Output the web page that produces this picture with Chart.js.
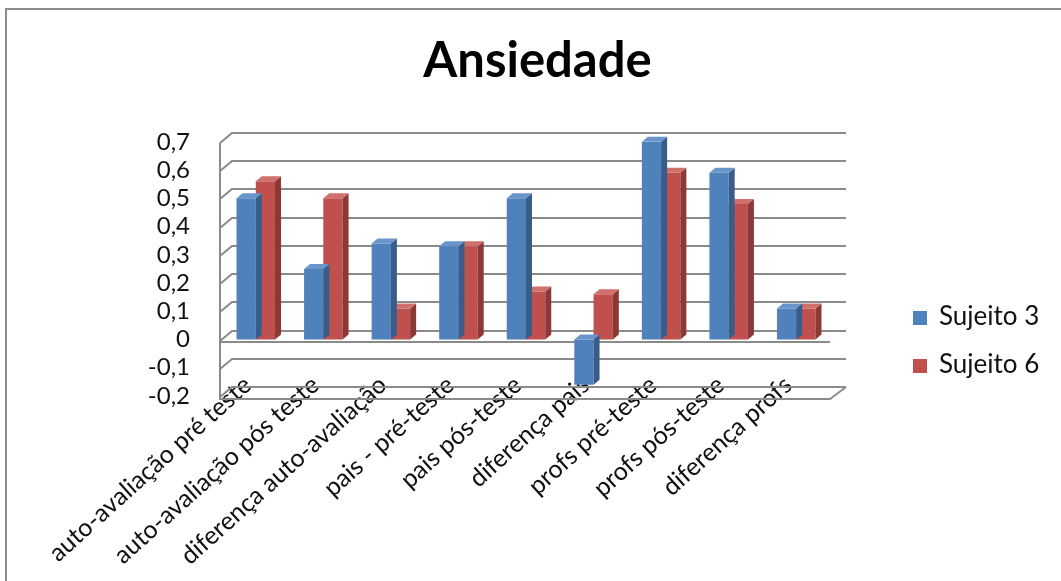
<!DOCTYPE html>
<html>
<head>
<meta charset="utf-8">
<script src="https://cdn.jsdelivr.net/npm/chart.js@4.4.0/dist/chart.umd.min.js"></script>
<style>
    body { margin: 0; background: #fff; }
    #wrap { position: relative; width: 1061px; height: 581px; overflow: hidden; }
    #frame { position: absolute; left: 5px; top: 8px; width: 1100px; height: 600px;
             border-left: 2px solid #8c8c8c; border-top: 2px solid #8c8c8c; }
    #chart { position: absolute; left: 0; top: 0; }
    .legend-item { position: absolute; left: 913px; font: 26px Lato, sans-serif; color: #111; line-height: 30px; }
    .legend-item span { display: inline-block; width: 14px; height: 14px; margin-right: 12px; vertical-align: 0px; }
</style>
</head>
<body>
<div id="wrap">
    <div id="frame"></div>
    <canvas id="chart" width="1061" height="581"></canvas>
    <div id="legend"></div>
</div>
<script>
var categories = ['auto-avaliação pré teste', 'auto-avaliação pós teste', 'diferença auto-avaliação',
    'pais - pré-teste', 'pais pós-teste', 'diferença pais', 'profs pré-teste', 'profs pós-teste', 'diferença profs'];
var sujeito3 = [0.5, 0.25, 0.34, 0.33, 0.5, -0.16, 0.7, 0.59, 0.11];
var sujeito6 = [0.56, 0.5, 0.11, 0.33, 0.17, 0.16, 0.59, 0.48, 0.11];
var seriesNames = ['Sujeito 3', 'Sujeito 6'];
var yMin = -0.2, yMax = 0.7, yStep = 0.1;

var colors = [
    { front: '#4F81BD', side: '#385D8A', top: '#6A95CC' },
    { front: '#C0504D', side: '#8C3836', top: '#D0706D' }
];

// legend on the right, like the original
var legendHtml = '';
for (var i = 0; i < seriesNames.length; i++) {
    legendHtml += '<div class="legend-item" style="top:' + (300 + i * 48) + 'px">' +
        '<span style="background:' + colors[i].front + '"></span>' + seriesNames[i] + '</div>';
}
document.getElementById('legend').innerHTML = legendHtml;

// back wall grid lines, left wall, floor and 3D faces of the bars
var wallPlugin = {
    id: 'wall',
    afterLayout: function(chart) {
        // labels start a bit above the floor, as in the original
        chart.scales.x.top -= 26;
    },
    beforeDatasetsDraw: function(chart) {
        var ctx = chart.ctx;
        var y = chart.scales.y;
        var area = chart.chartArea;
        var dx = 12, dy = 10;
        var left = area.left - 2;
        ctx.save();
        ctx.strokeStyle = '#8a8a8a';
        ctx.lineWidth = 2;
        ctx.beginPath();
        for (var v = yMin; v <= yMax + 1e-9; v += yStep) {
            var py = Math.round(y.getPixelForValue(v)) + 1;
            ctx.moveTo(left, py);
            ctx.lineTo(left + dx, py - dy);
            ctx.lineTo(area.right + 16, py - dy);
        }
        var yTop = Math.round(y.getPixelForValue(yMax)) + 1;
        var yBot = Math.round(y.getPixelForValue(yMin)) + 3;
        ctx.moveTo(left, yTop);
        ctx.lineTo(left, yBot);
        ctx.lineTo(area.right, yBot);
        ctx.lineTo(area.right + 16, yBot - dy - 2);
        var y0 = Math.round(y.getPixelForValue(0)) + 2;
        ctx.moveTo(left, y0);
        ctx.lineTo(area.right, y0);
        ctx.stroke();
        ctx.restore();
    },
    afterDatasetDraw: function(chart, args) {
        var ctx = chart.ctx;
        var meta = args.meta;
        var c = colors[args.index];
        var d = 6;
        ctx.save();
        for (var i = 0; i < meta.data.length; i++) {
            var p = meta.data[i].getProps(['x', 'y', 'base', 'width'], true);
            var l = p.x - p.width / 2, r = p.x + p.width / 2;
            var t = Math.min(p.y, p.base), b = Math.max(p.y, p.base);
            ctx.fillStyle = c.side;
            ctx.beginPath();
            ctx.moveTo(r, t);
            ctx.lineTo(r + d, t - d + 1);
            ctx.lineTo(r + d, b - d + 1);
            ctx.lineTo(r, b);
            ctx.closePath();
            ctx.fill();
            ctx.fillStyle = c.top;
            ctx.beginPath();
            ctx.moveTo(l, t);
            ctx.lineTo(l + d, t - d + 1);
            ctx.lineTo(r + d, t - d + 1);
            ctx.lineTo(r, t);
            ctx.closePath();
            ctx.fill();
        }
        ctx.restore();
    }
};

function fmt(v) {
    var n = Math.round(v * 10) / 10;
    if (n === 0) return '0';
    return n.toFixed(1).replace('.', ',');
}

new Chart(document.getElementById('chart'), {
    type: 'bar',
    data: {
        labels: categories,
        datasets: [
            { label: seriesNames[0], data: sujeito3, backgroundColor: colors[0].front },
            { label: seriesNames[1], data: sujeito6, backgroundColor: colors[1].front }
        ]
    },
    options: {
        responsive: false,
        animation: false,
        layout: { padding: { left: 14, right: 0, top: 0, bottom: 0 } },
        datasets: { bar: { categoryPercentage: 0.57, barPercentage: 1.0 } },
        plugins: {
            legend: { display: false },
            tooltip: { enabled: false },
            title: {
                display: true,
                text: 'Ansiedade',
                color: '#000',
                font: { family: 'Lato', size: 49, weight: 'bold' },
                padding: { top: 32, bottom: 51 }
            }
        },
        scales: {
            x: {
                grid: { display: false, drawTicks: false },
                border: { display: false },
                ticks: {
                    color: '#111',
                    font: { family: 'Lato', size: 25 },
                    minRotation: 42,
                    maxRotation: 42,
                    autoSkip: false,
                    labelOffset: -8,
                    padding: 0
                },
                afterFit: function(scale) { scale.height = 185; }
            },
            y: {
                min: yMin,
                max: yMax,
                grid: { display: false, drawTicks: false },
                border: { display: false },
                ticks: {
                    stepSize: yStep,
                    autoSkip: false,
                    color: '#111',
                    font: { family: 'Lato', size: 24 },
                    padding: 32,
                    callback: function(value) { return fmt(value); }
                },
                afterFit: function(scale) { scale.width = 208; }
            },
            // empty right-hand space where the legend sits
            side: {
                type: 'linear',
                position: 'right',
                grid: { display: false, drawTicks: false },
                border: { display: false },
                ticks: { display: false },
                afterFit: function(scale) { scale.width = 231; }
            }
        }
    },
    plugins: [wallPlugin]
});
</script>
</body>
</html>
